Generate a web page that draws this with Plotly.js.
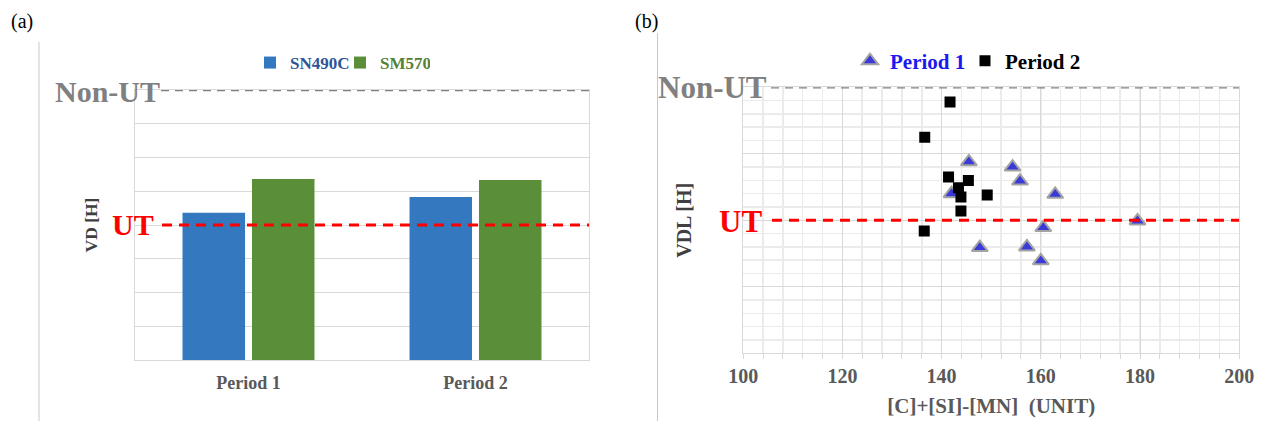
<!DOCTYPE html>
<html>
<head>
<meta charset="utf-8">
<script src="https://cdn.plot.ly/plotly-3.0.1.min.js"></script>
<style>html,body{margin:0;padding:0;background:#fff;}#chart{width:1261px;height:421px;}</style>
</head>
<body>
<div id="chart"></div>
<script>
// ---- data ----
const categories = ['Period 1', 'Period 2'];
const sn490c = [4.36, 4.83];
const sm570 = [5.36, 5.33];

const period1X = [145.5, 154.3, 155.8, 142.0, 162.9, 179.5, 160.5, 147.7, 157.2, 160.0];
const period1Y = [2.88, 2.80, 2.59, 2.40, 2.39, 1.99, 1.89, 1.59, 1.60, 1.39];
const period2X = [141.7, 136.6, 141.4, 145.4, 143.4, 143.9, 149.2, 143.9, 136.5];
const period2Y = [3.78, 3.25, 2.65, 2.60, 2.49, 2.35, 2.38, 2.14, 1.84];

const xTickVals = [100, 120, 140, 160, 180, 200];
const utLevelA = 4, nonUtLevelA = 8;
const utLevelB = 2, nonUtLevelB = 4;

// ---- helpers ----
const W = 1261, H = 421;
const px = v => v / W;
const py = v => 1 - v / H;
const SERIF = 'Liberation Serif, Times New Roman, serif';

const traces = [
  {type: 'bar', name: '<span style="color:#2F5597">SN490C</span>', x: categories, y: sn490c,
   marker: {color: '#3479C0'}, xaxis: 'x', yaxis: 'y', legend: 'legend'},
  {type: 'bar', name: '<span style="color:#548235">SM570</span>', x: categories, y: sm570,
   marker: {color: '#5A8E38'}, xaxis: 'x', yaxis: 'y', legend: 'legend'},
  {type: 'scatter', mode: 'markers', name: '<span style="color:#1A1AF0">Period 1</span>', x: period1X, y: period1Y,
   marker: {symbol: 'triangle-up', size: 14, color: '#3A3AD8', line: {color: '#A3A3A3', width: 2}},
   xaxis: 'x2', yaxis: 'y2', legend: 'legend2'},
  {type: 'scatter', mode: 'markers', name: 'Period 2', x: period2X, y: period2Y,
   marker: {symbol: 'square', size: 11, color: '#000000'},
   xaxis: 'x2', yaxis: 'y2', legend: 'legend2'}
];

const gridC = '#D9D9D9';

const layout = {
  width: W, height: H,
  margin: {l: 0, r: 0, t: 0, b: 0},
  paper_bgcolor: '#ffffff', plot_bgcolor: '#ffffff',
  font: {family: SERIF},
  barmode: 'group', bargap: 0.388, bargroupgap: 0.1,
  xaxis: {
    domain: [px(135), px(589)], anchor: 'y',
    showline: true, linecolor: gridC, linewidth: 1, mirror: true,
    showgrid: false, ticks: '', ticklabelstandoff: 6,
    tickfont: {family: SERIF, size: 18, color: '#595959', weight: 'bold'},
    fixedrange: true
  },
  yaxis: {
    domain: [py(360), py(90)], anchor: 'x',
    range: [0, 8], dtick: 1, showticklabels: false, ticks: '',
    showgrid: true, gridcolor: gridC, gridwidth: 1,
    showline: true, linecolor: gridC, mirror: true, zeroline: false,
    title: {text: 'VD [H]', standoff: 31, font: {family: SERIF, size: 17.5, color: '#404040', weight: 'bold'}}
  },
  xaxis2: {
    domain: [px(743.2), px(1239.2)], anchor: 'y2',
    range: [100, 200], tickvals: xTickVals, ticktext: xTickVals.map(String),
    showgrid: true, gridcolor: gridC, gridwidth: 1,
    ticks: 'outside', ticklen: 5, tickcolor: gridC,
    minor: {dtick: 4, showgrid: true, gridcolor: '#EBEBEB', gridwidth: 1.5, ticks: 'outside', ticklen: 5, tickcolor: gridC},
    showline: true, linecolor: gridC, mirror: true, zeroline: false,
    tickfont: {family: SERIF, size: 20, color: '#595959', weight: 'bold'},
    title: {text: '[C]+[SI]-[MN]  (UNIT)', standoff: 12, font: {family: SERIF, size: 21, color: '#595959', weight: 'bold'}}
  },
  yaxis2: {
    domain: [py(353.3), py(87.3)], anchor: 'x2',
    range: [0, 4], dtick: 1, showticklabels: false, ticks: '',
    showgrid: true, gridcolor: gridC, gridwidth: 1,
    minor: {dtick: 0.2, showgrid: true, gridcolor: '#EBEBEB', gridwidth: 1.5},
    showline: true, linecolor: gridC, mirror: true, zeroline: false,
    title: {text: 'VDL [H]', standoff: 45, font: {family: SERIF, size: 20, color: '#404040', weight: 'bold'}}
  },
  legend: {
    orientation: 'h', x: px(250), xanchor: 'left', y: py(63), yanchor: 'middle',
    font: {family: SERIF, size: 17, weight: 'bold'}, bgcolor: 'rgba(0,0,0,0)',
    itemwidth: 30, entrywidth: 45, traceorder: 'normal'
  },
  legend2: {
    orientation: 'h', x: px(850), xanchor: 'left', y: py(61), yanchor: 'middle',
    font: {family: SERIF, size: 21, weight: 'bold', color: '#000000'}, bgcolor: 'rgba(0,0,0,0)',
    itemwidth: 30, entrywidth: 70, traceorder: 'normal'
  },
  shapes: [
    {type: 'line', xref: 'paper', yref: 'paper', x0: px(39), x1: px(39), y0: 0, y1: py(42), line: {color: '#C8C8C8', width: 1}},
    {type: 'line', xref: 'paper', yref: 'paper', x0: px(657.5), x1: px(657.5), y0: 0, y1: py(33), line: {color: '#C8C8C8', width: 1}},
    {type: 'line', xref: 'x domain', yref: 'y', x0: (161 - 135) / 454, x1: 1, y0: nonUtLevelA, y1: nonUtLevelA, line: {color: '#808080', width: 2.5, dash: '8px,6px'}},
    {type: 'line', xref: 'x domain', yref: 'y', x0: (162 - 135) / 454, x1: 1, y0: utLevelA, y1: utLevelA, line: {color: '#FF0000', width: 3, dash: '10px,7px'}},
    {type: 'line', xref: 'x2', yref: 'y2', x0: 105.6, x1: 200, y0: nonUtLevelB, y1: nonUtLevelB, line: {color: '#808080', width: 2.5, dash: '8px,6px'}},
    {type: 'line', xref: 'x2', yref: 'y2', x0: 105.8, x1: 200, y0: utLevelB, y1: utLevelB, line: {color: '#FF0000', width: 3, dash: '10px,7px'}}
  ],
  annotations: [
    {text: '(a)', xref: 'paper', yref: 'paper', x: px(22), y: py(22), showarrow: false, xanchor: 'center', yanchor: 'middle',
     font: {family: SERIF, size: 20, color: '#000'}},
    {text: '(b)', xref: 'paper', yref: 'paper', x: px(646), y: py(22), showarrow: false, xanchor: 'center', yanchor: 'middle',
     font: {family: SERIF, size: 20, color: '#000'}},
    {text: 'Non-UT', xref: 'paper', yref: 'paper', x: px(162), y: py(91), showarrow: false, xanchor: 'right', yanchor: 'middle',
     font: {family: SERIF, size: 30, color: '#808080', weight: 'bold'}},
    {text: 'UT', xref: 'paper', yref: 'paper', x: px(156), y: py(224), showarrow: false, xanchor: 'right', yanchor: 'middle',
     font: {family: SERIF, size: 30, color: '#FF0000', weight: 'bold'}},
    {text: 'Non-UT', xref: 'paper', yref: 'paper', x: px(769), y: py(87), showarrow: false, xanchor: 'right', yanchor: 'middle',
     font: {family: SERIF, size: 31, color: '#808080', weight: 'bold'}},
    {text: 'UT', xref: 'paper', yref: 'paper', x: px(764), y: py(221), showarrow: false, xanchor: 'right', yanchor: 'middle',
     font: {family: SERIF, size: 31, color: '#FF0000', weight: 'bold'}}
  ]
};

Plotly.newPlot('chart', traces, layout, {staticPlot: true, displayModeBar: false});
</script>
</body>
</html>
